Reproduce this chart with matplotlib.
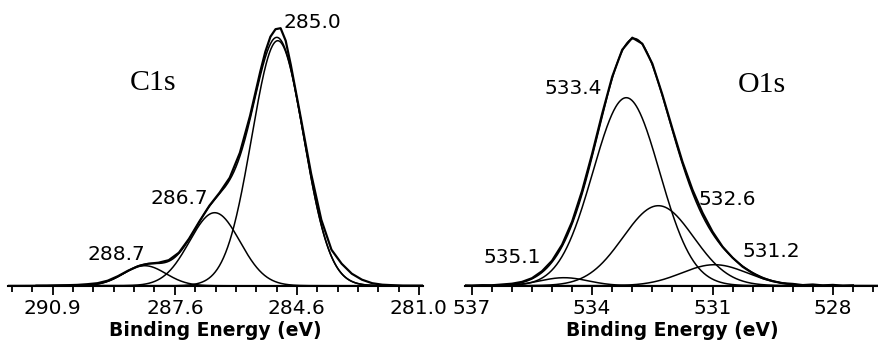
import numpy as np
import matplotlib
matplotlib.use("Agg")
import matplotlib.pyplot as plt

# ---- C1s: fitted components (centre eV, height, sigma eV) ----
c1s_labels = ["285.0", "286.7", "288.7"]
c1s_centre = [285.07, 286.62, 288.34]
c1s_height = [245, 73, 20]
c1s_sigma = [0.64, 0.62, 0.52]

c1s_energy = [291.0, 290.75, 290.5, 290.25, 290.0, 289.75, 289.5, 289.25, 289.0,
              288.75, 288.5, 288.25, 288.0, 287.75, 287.5, 287.25, 287.0, 286.75,
              286.5, 286.25, 286.0, 285.75, 285.5, 285.375, 285.25, 285.125, 285.0,
              284.875, 284.75, 284.5,
              284.25, 284.0, 283.75, 283.5, 283.25, 283.0, 282.75, 282.5, 282.25,
              282.0, 281.75, 281.5]
c1s_counts = [0, 0, 0.3, 0.5, 0.8, 1.5, 2.5, 5, 9.5,
              15, 19.5, 22, 23, 25.5, 33, 47, 64, 80,
              93, 108, 133, 170, 214, 234, 249, 256.5, 257.5,
              245, 221, 167,
              112, 66, 36, 22, 12, 6, 2.5, 1, 0.5,
              0, 0, 0]
c1s_tick_pos = [290.6, 287.6, 284.6, 281.6]
c1s_tick_lab = ["290.9", "287.6", "284.6", "281.0"]

# ---- O1s ----
o1s_labels = ["533.4", "532.6", "531.2", "535.1"]
o1s_centre = [533.15, 532.35, 530.95, 534.7]
o1s_height = [188, 80, 21, 8]
o1s_sigma = [0.83, 0.88, 0.82, 0.6]

o1s_energy = [537.5, 537.25, 537.0, 536.75, 536.5, 536.25, 536.0, 535.75, 535.5,
              535.25, 535.0, 534.75, 534.5, 534.25, 534.0, 533.75, 533.5, 533.25,
              533.0, 532.75, 532.5, 532.25, 532.0, 531.75, 531.5, 531.25, 531.0,
              530.75, 530.5, 530.25, 530.0, 529.75, 529.5, 529.25, 529.0, 528.75,
              528.5, 528.25, 528.0, 527.75, 527.5]
o1s_counts = [0, 0.3, 0, 0.5, 0.4, 1.2, 2, 3.8, 7.5,
              14.5, 25, 41, 64, 95, 132, 172, 209, 236,
              248, 242, 222, 191, 157, 124, 96, 73, 54,
              39, 28, 19, 12.5, 7.5, 4.5, 2.5, 1.8, 0.6,
              1.2, 0.3, 0.8, 0, 0.4]
o1s_tick_pos = [537, 534, 531, 528]
o1s_tick_lab = ["537", "534", "531", "528"]

W, H = 879, 346
fig = plt.figure(figsize=(W / 100, H / 100), dpi=100)
ax1 = fig.add_axes([8 / W, 60.3 / H, 415 / W, 270 / H])
ax2 = fig.add_axes([465 / W, 60.3 / H, 414 / W, 270 / H])

num_font = dict(family="DejaVu Sans", size=14.5)


def draw(ax, energy, counts, centre, height, sigma, xlim):
    x = np.linspace(xlim[0], xlim[1], 800)
    total = np.zeros_like(x)
    for c, h, s in zip(centre, height, sigma):
        g = h * np.exp(-(x - c) ** 2 / (2 * s ** 2))
        total += g
        ax.plot(x, g, color="black", lw=1.1)
    ax.plot(x, total, color="black", lw=1.1)
    ax.plot(energy, counts, color="black", lw=1.6)
    ax.set_xlim(xlim)
    ax.set_ylim(0, 270)
    for sp in ["left", "right", "top"]:
        ax.spines[sp].set_visible(False)
    ax.spines["bottom"].set_linewidth(1.5)
    ax.set_yticks([])
    ax.tick_params(axis="x", which="major", direction="out", length=6.5, width=1.3, pad=3)
    ax.tick_params(axis="x", which="minor", direction="out", length=4, width=1.3)
    ax.set_xlabel("Binding Energy (eV)", family="DejaVu Sans", fontweight="bold",
                  fontsize=13.5, labelpad=2)


draw(ax1, c1s_energy, c1s_counts, c1s_centre, c1s_height, c1s_sigma, (291.7, 281.5))
ax1.set_xticks(c1s_tick_pos)
ax1.set_xticklabels(c1s_tick_lab, **num_font)
ax1.set_xticks(np.arange(281.6, 291.7, 0.5), minor=True)

draw(ax2, o1s_energy, o1s_counts, o1s_centre, o1s_height, o1s_sigma, (537.17, 526.85))
ax2.set_xticks(o1s_tick_pos)
ax2.set_xticklabels(o1s_tick_lab, **num_font)
ax2.set_xticks(np.arange(527, 537.1, 0.5), minor=True)

# peak annotations
c1s_text_xy = [(284.21, 257.7), (287.49, 81.7), (289.03, 25.7)]
for lab, (tx, ty) in zip(c1s_labels, c1s_text_xy):
    ax1.text(tx, ty, lab, ha="center", va="baseline", **num_font)
o1s_text_xy = [(534.46, 191.7), (530.63, 80.7), (529.54, 28.7), (536.0, 22.7)]
for lab, (tx, ty) in zip(o1s_labels, o1s_text_xy):
    ax2.text(tx, ty, lab, ha="center", va="baseline", **num_font)

ax1.text(288.14, 195.7, "C1s", ha="center", va="baseline", family="Liberation Serif", fontsize=21.5)
ax2.text(529.77, 193.7, "O1s", ha="center", va="baseline", family="Liberation Serif", fontsize=21.5)

fig.savefig("out.png", dpi=100, facecolor="white")
